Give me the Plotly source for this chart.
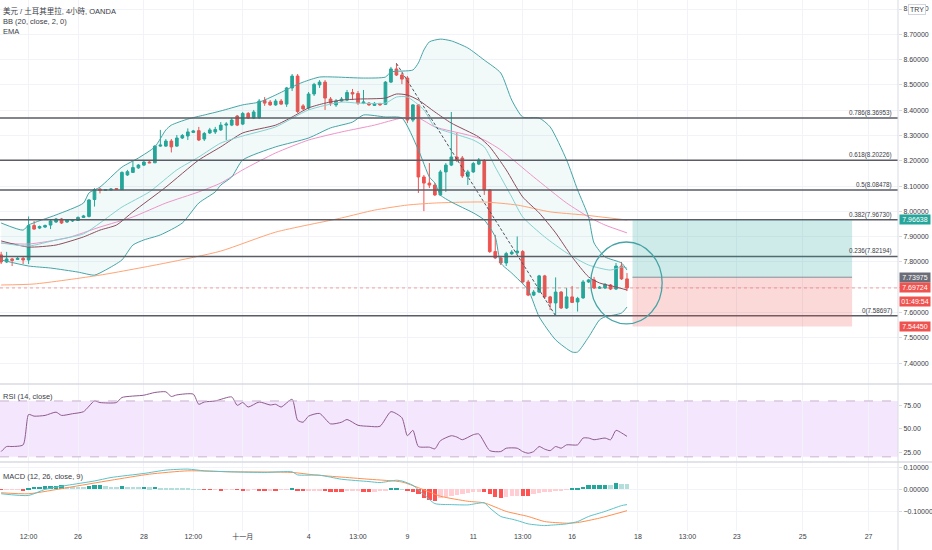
import plotly.graph_objects as go
from plotly.subplots import make_subplots

# USD/TRY 4h candles, bar index 0 = "26"
bars = list(range(-14, 101))

open_ = [7.828, 7.800, 7.812, 7.810, 7.814, 7.808, 7.944, 7.934, 7.938, 7.946,
         7.958, 7.970, 7.958, 7.962, 7.964, 7.976, 7.980, 8.047, 8.088, 8.083,
         8.085, 8.090, 8.086, 8.144, 8.154, 8.172, 8.183, 8.195, 8.192, 8.258,
         8.258, 8.278, 8.258, 8.290, 8.298, 8.312, 8.319, 8.286, 8.310, 8.314,
         8.322, 8.341, 8.341, 8.377, 8.345, 8.387, 8.369, 8.371, 8.438, 8.432,
         8.421, 8.436, 8.424, 8.488, 8.535, 8.417, 8.409, 8.464, 8.500, 8.511,
         8.444, 8.421, 8.436, 8.440, 8.470, 8.466, 8.428, 8.428, 8.419, 8.427,
         8.423, 8.511, 8.563, 8.539, 8.527, 8.361, 8.421, 8.136, 8.112, 8.104,
         8.065, 8.156, 8.183, 8.215, 8.211, 8.138, 8.156, 8.187, 8.199, 8.085,
         7.841, 7.816, 7.796, 7.832, 7.836, 7.841, 7.721, 7.669, 7.681, 7.745,
         7.662, 7.638, 7.681, 7.618, 7.662, 7.642, 7.658, 7.721, 7.729, 7.696,
         7.697, 7.709, 7.693, 7.784, 7.733]
high = [7.840, 7.840, 7.816, 7.820, 7.822, 7.980, 7.962, 7.944, 7.948, 7.966,
        7.974, 7.974, 7.970, 7.970, 7.980, 7.986, 8.049, 8.092, 8.092, 8.088,
        8.092, 8.092, 8.158, 8.164, 8.201, 8.187, 8.201, 8.199, 8.262, 8.322,
        8.286, 8.286, 8.302, 8.306, 8.328, 8.322, 8.334, 8.314, 8.330, 8.334,
        8.353, 8.353, 8.369, 8.381, 8.393, 8.393, 8.401, 8.444, 8.452, 8.440,
        8.444, 8.444, 8.492, 8.543, 8.543, 8.424, 8.472, 8.508, 8.519, 8.519,
        8.452, 8.444, 8.452, 8.480, 8.484, 8.476, 8.480, 8.432, 8.432, 8.428,
        8.515, 8.571, 8.585, 8.547, 8.535, 8.424, 8.424, 8.144, 8.191, 8.112,
        8.164, 8.191, 8.393, 8.310, 8.219, 8.164, 8.195, 8.211, 8.207, 8.088,
        7.907, 7.824, 7.840, 7.847, 7.901, 7.847, 7.729, 7.689, 7.749, 7.749,
        7.666, 7.739, 7.685, 7.697, 7.705, 7.662, 7.729, 7.733, 7.741, 7.705,
        7.717, 7.713, 7.796, 7.800, 7.756]
low = [7.792, 7.796, 7.784, 7.808, 7.792, 7.792, 7.928, 7.930, 7.934, 7.930,
       7.954, 7.950, 7.954, 7.958, 7.962, 7.974, 7.976, 8.019, 8.071, 8.081,
       8.083, 8.086, 8.085, 8.140, 8.152, 8.168, 8.179, 8.191, 8.191, 8.255,
       8.255, 8.233, 8.255, 8.286, 8.282, 8.310, 8.278, 8.278, 8.306, 8.306,
       8.318, 8.282, 8.337, 8.337, 8.341, 8.365, 8.365, 8.365, 8.417, 8.417,
       8.417, 8.421, 8.413, 8.476, 8.389, 8.401, 8.401, 8.456, 8.488, 8.401,
       8.417, 8.413, 8.432, 8.436, 8.440, 8.421, 8.424, 8.417, 8.417, 8.417,
       8.421, 8.507, 8.535, 8.503, 8.349, 8.353, 8.073, 8.001, 8.092, 8.061,
       8.061, 8.077, 8.179, 8.195, 8.132, 8.104, 8.152, 8.183, 8.065, 7.836,
       7.812, 7.788, 7.784, 7.828, 7.831, 7.713, 7.665, 7.665, 7.677, 7.654,
       7.610, 7.587, 7.614, 7.614, 7.638, 7.604, 7.654, 7.717, 7.693, 7.693,
       7.693, 7.689, 7.689, 7.729, 7.685]
close = [7.800, 7.812, 7.806, 7.814, 7.808, 7.944, 7.930, 7.940, 7.944, 7.962,
         7.970, 7.954, 7.966, 7.966, 7.976, 7.982, 8.045, 8.086, 8.083, 8.086,
         8.088, 8.088, 8.154, 8.157, 8.173, 8.183, 8.195, 8.192, 8.258, 8.262,
         8.278, 8.255, 8.290, 8.300, 8.314, 8.318, 8.282, 8.308, 8.322, 8.324,
         8.341, 8.345, 8.361, 8.341, 8.387, 8.369, 8.393, 8.436, 8.428, 8.421,
         8.436, 8.424, 8.488, 8.535, 8.395, 8.405, 8.464, 8.502, 8.511, 8.448,
         8.428, 8.436, 8.444, 8.470, 8.464, 8.428, 8.432, 8.421, 8.427, 8.421,
         8.511, 8.563, 8.539, 8.523, 8.361, 8.421, 8.136, 8.112, 8.104, 8.065,
         8.156, 8.183, 8.215, 8.203, 8.140, 8.156, 8.189, 8.203, 8.085, 7.841,
         7.816, 7.796, 7.833, 7.839, 7.843, 7.721, 7.669, 7.681, 7.745, 7.662,
         7.638, 7.681, 7.618, 7.662, 7.640, 7.656, 7.721, 7.729, 7.697, 7.700,
         7.711, 7.693, 7.784, 7.733, 7.697]

# Bollinger bands
bb_up_x = [-14, -10, -9, -4, 1, 2, 4, 8, 11, 14, 16, 17, 20, 23, 26, 30, 33, 36, 39,
           41, 44, 47, 52, 56, 57, 61, 62, 63, 64, 66, 68, 71, 74, 77, 79, 81, 84,
           86, 89, 91, 93, 94, 96, 99, 100]
bb_up_y = [7.954, 7.926, 7.946, 7.986, 8.033, 8.073, 8.096, 8.175, 8.211, 8.255,
           8.322, 8.341, 8.365, 8.381, 8.397, 8.421, 8.432, 8.460, 8.492, 8.511,
           8.531, 8.531, 8.527, 8.531, 8.551, 8.559, 8.587, 8.638, 8.670, 8.681,
           8.674, 8.646, 8.598, 8.547, 8.440, 8.373, 8.369, 8.334, 8.203, 8.085,
           7.978, 7.875, 7.820, 7.796, 7.768]
bb_lo_x = [-14, -9, -5, 0, 3, 5, 8, 10, 12, 15, 19, 22, 25, 26, 28, 30, 36, 42, 46,
           50, 52, 56, 59, 62, 64, 65, 66, 68, 72, 74, 76, 77, 79, 82, 84, 87, 90,
           91, 93, 95, 96, 99, 100]
bb_lo_y = [7.808, 7.784, 7.776, 7.760, 7.748, 7.768, 7.808, 7.867, 7.887, 7.907,
           7.954, 8.033, 8.077, 8.104, 8.136, 8.203, 8.255, 8.290, 8.330, 8.353,
           8.381, 8.373, 8.369, 8.243, 8.136, 8.112, 8.065, 8.037, 7.994, 7.966,
           7.899, 7.796, 7.756, 7.689, 7.583, 7.492, 7.444, 7.444, 7.503, 7.571,
           7.583, 7.598, 7.622]

# EMA lines
ema_fast_x = [-14, -9, -4, 1, 4, 8, 13, 18, 22, 26, 30, 36, 42, 48, 51, 56, 58, 60,
              63, 65, 68, 72, 74, 76, 79, 81, 85, 89, 93, 97, 99, 100]
ema_fast_y = [7.875, 7.863, 7.887, 7.911, 7.954, 8.017, 8.077, 8.164, 8.215, 8.270,
              8.298, 8.334, 8.401, 8.432, 8.428, 8.428, 8.452, 8.452, 8.401, 8.334,
              8.310, 8.282, 8.255, 8.175, 8.057, 7.978, 7.899, 7.836, 7.788, 7.768,
              7.780, 7.776]
basis_x = [-14, -9, -4, 1, 4, 7, 10, 16, 22, 26, 30, 36, 39, 42, 45, 48, 51, 56, 58,
           60, 62, 65, 68, 73, 75, 78, 81, 84, 87, 90, 93, 95, 98, 100]
basis_y = [7.883, 7.859, 7.867, 7.899, 7.926, 7.946, 7.998, 8.096, 8.203, 8.255,
           8.310, 8.341, 8.373, 8.409, 8.428, 8.440, 8.444, 8.448, 8.464, 8.460,
           8.440, 8.393, 8.349, 8.294, 8.255, 8.164, 8.057, 7.994, 7.915, 7.820,
           7.741, 7.717, 7.701, 7.689]
ema_mid_x = [-14, -9, -2, 4, 10, 16, 22, 26, 30, 36, 42, 48, 54, 59, 62, 65, 71, 74,
             77, 83, 89, 93, 96, 100]
ema_mid_y = [7.875, 7.871, 7.895, 7.938, 7.978, 8.033, 8.077, 8.112, 8.164, 8.231,
             8.282, 8.314, 8.341, 8.369, 8.369, 8.334, 8.302, 8.282, 8.243, 8.136,
             8.033, 7.978, 7.946, 7.915]
ema_slow_x = [-14, -8, 4, 16, 26, 36, 48, 54, 60, 65, 74, 80, 86, 92, 100]
ema_slow_y = [7.709, 7.713, 7.748, 7.796, 7.843, 7.918, 7.974, 8.005, 8.025, 8.033,
              8.037, 8.025, 7.998, 7.986, 7.966]

# Fibonacci retracement
fib_ratio = [0.786, 0.618, 0.5, 0.382, 0.236, 0]
fib_price = [8.36953, 8.20226, 8.08478, 7.96730, 7.82194, 7.58697]

# Long position tool
pos_bars = [101, 141]
pos_entry = 7.73975
pos_target = 7.96638
pos_stop = 7.54450
last_price = 7.69724
countdown = "01:49:54"

# drawings
trend_x = [58, 87]
trend_y = [8.585, 7.587]
ellipse_x = [93.4, 106.4]
ellipse_y = [7.555, 7.879]

# RSI (14)
rsi_x = [-14, -13, -12, -10, -9, -8, -6, -4, -3, -1, 1, 3, 4, 7, 8, 12, 14, 16, 17,
         18, 21, 22, 23, 25, 28, 29, 30, 31, 33, 35, 36, 37, 39, 40, 41, 42, 44, 46,
         48, 49, 51, 53, 55, 57, 59, 60, 61, 62, 64, 65, 66, 68, 69, 70, 72, 73, 75,
         77, 78, 80, 81, 82, 83, 84, 85, 86, 87, 88, 89, 91, 92, 93, 94, 96, 97, 98,
         99, 100]
rsi_y = [25.7, 31.1, 31.1, 32.9, 65.5, 63.7, 64.5, 68.0, 64.5, 66.3, 68.5, 80.0, 78.3,
         78.3, 83.7, 86.2, 89.1, 89.8, 84.8, 86.5, 87.3, 76.4, 78.9, 80.0, 84.3, 75.3,
         78.3, 73.5, 78.9, 75.7, 76.4, 73.5, 81.8, 59.3, 57.2, 63.7, 66.6, 55.4, 57.2,
         60.1, 53.9, 52.8, 52.8, 68.5, 62.0, 42.7, 48.5, 31.1, 30.4, 28.6, 37.3, 42.7,
         41.3, 38.4, 43.8, 44.6, 26.7, 25.7, 29.3, 29.3, 25.7, 23.9, 25.7, 31.1, 28.3,
         26.7, 31.1, 29.3, 32.9, 32.9, 40.2, 40.2, 38.4, 40.2, 38.4, 48.5, 45.7, 42.0]
rsi_levels = [80, 20]

# MACD (12, 26, 9)
macd_x = [-14, -9, -6, -2, 3, 6, 12, 16, 20, 23, 28, 34, 39, 40, 44, 48, 53, 55, 58,
          59, 61, 63, 65, 68, 71, 74, 75, 77, 79, 80, 82, 85, 86, 89, 91, 93, 96, 99,
          100]
macd_y = [-0.0198, -0.0276, 0.0, 0.0184, 0.0382, 0.0539, 0.0724, 0.0876, 0.0922,
          0.0843, 0.0797, 0.0770, 0.0797, 0.0659, 0.0645, 0.0461, 0.0355, 0.0309,
          0.0415, 0.0382, 0.0184, -0.0230, -0.0645, -0.0691, -0.0705, -0.0613,
          -0.0843, -0.1230, -0.1350, -0.1415, -0.1567, -0.1645, -0.1627, -0.1567,
          -0.1461, -0.1230, -0.1000, -0.0737, -0.0691]
signal_x = [-14, -9, -2, 6, 13, 20, 28, 39, 43, 53, 59, 62, 66, 71, 74, 78, 82, 85,
            89, 91, 95, 100]
signal_y = [-0.0152, -0.0198, 0.0078, 0.0415, 0.0691, 0.0843, 0.0797, 0.0770, 0.0659,
            0.0461, 0.0336, 0.0078, -0.0309, -0.0539, -0.0613, -0.1000, -0.1230,
            -0.1461, -0.1535, -0.1507, -0.1304, -0.0968]
macd_hist = [-0.002, -0.002, -0.002, -0.002, -0.003, 0.008, 0.010, 0.013, 0.015, 0.016,
             0.017, 0.018, 0.013, 0.012, 0.011, 0.010, 0.016, 0.018, 0.018, 0.015,
             0.013, 0.012, 0.014, 0.012, 0.011, 0.010, 0.010, 0.009, 0.010, 0.008,
             0.006, 0.005, 0.004, 0.003, 0.002, 0.001, 0.0005, -0.001, -0.002, -0.002,
             -0.003, -0.002, -0.001, -0.002, -0.004, -0.003, -0.002, -0.003, -0.004, -0.003,
             -0.004, -0.002, -0.001, 0.002, -0.003, -0.005, -0.004, -0.003, -0.003, -0.006,
             -0.010, -0.012, -0.014, -0.008, -0.006, -0.005, -0.010, -0.012, -0.011, -0.008,
             -0.006, 0.002, 0.003, 0.001, -0.008, -0.012, -0.020, -0.038, -0.046, -0.054,
             -0.040, -0.035, -0.030, -0.025, -0.020, -0.015, -0.012, -0.010, -0.012, -0.022,
             -0.034, -0.040, -0.034, -0.030, -0.028, -0.030, -0.032, -0.022, -0.018, -0.014,
             -0.010, -0.007, -0.005, -0.002, 0.002, 0.005, 0.012, 0.018, 0.020, 0.021,
             0.022, 0.020, 0.028, 0.025, 0.024]

tick_pos = [-9, 0, 12, 21, 30, 42, 51, 60, 72, 81, 90, 102, 111, 120, 132, 144]
tick_text = ["12:00", "26", "28", "12:00", "十一月", "4", "13:00", "9", "11", "13:00",
             "16", "18", "13:00", "23", "25", "27"]
price_ticks = [7.4, 7.5, 7.6, 7.7, 7.8, 7.9, 8.0, 8.1, 8.2, 8.3, 8.4, 8.5, 8.6, 8.7, 8.8]

UP = "#26a69a"
DOWN = "#ef5350"
TEAL = "#45a4a6"
GRID = "#f1f3f8"
TXT = "#3a3d45"
FONT = "Liberation Sans, Noto Sans CJK TC"

fig = make_subplots(rows=3, cols=1, shared_xaxes=True, vertical_spacing=0,
                    row_heights=[384, 78, 69])

# BB fill
fig.add_trace(go.Scatter(x=bb_up_x + bb_lo_x[::-1], y=bb_up_y + bb_lo_y[::-1],
                         fill="toself", fillcolor="rgba(38,166,154,0.06)",
                         line=dict(width=0), hoverinfo="skip", showlegend=False),
              row=1, col=1)

def line(x, y, color, row=1, width=1, dash=None):
    fig.add_trace(go.Scatter(x=x, y=y, mode="lines",
                             line=dict(color=color, width=width, shape="spline",
                                       smoothing=0.6, dash=dash),
                             hoverinfo="skip", showlegend=False), row=row, col=1)

line(ema_slow_x, ema_slow_y, "#ffa475")
line(ema_mid_x, ema_mid_y, "#ee93c9")
line(basis_x, basis_y, "#8c4d5e")
line(ema_fast_x, ema_fast_y, "#86d0d0")
line(bb_up_x, bb_up_y, TEAL)
line(bb_lo_x, bb_lo_y, TEAL)

fig.add_trace(go.Candlestick(
    x=bars, open=open_, high=high, low=low, close=close,
    increasing=dict(line=dict(color=UP, width=1), fillcolor=UP),
    decreasing=dict(line=dict(color=DOWN, width=1), fillcolor=DOWN),
    whiskerwidth=0, showlegend=False, hoverinfo="skip"), row=1, col=1)

# dashed trend line
fig.add_trace(go.Scatter(x=trend_x, y=trend_y, mode="lines",
                         line=dict(color="#50535e", width=1, dash="3px,2px"),
                         hoverinfo="skip", showlegend=False), row=1, col=1)

# RSI
fig.add_shape(type="rect", xref="x2 domain", yref="y2", x0=0, x1=1,
              y0=rsi_levels[1], y1=rsi_levels[0], fillcolor="#f4e6fc",
              line=dict(width=0), layer="below")
for lv in rsi_levels:
    fig.add_shape(type="line", xref="x2 domain", yref="y2", x0=0, x1=1, y0=lv, y1=lv,
                  line=dict(color="#c9b3cf", width=1, dash="dash"))
line(rsi_x, rsi_y, "#8f5a8f", row=2)

# MACD
hist_colors = []
prev = None
for v in macd_hist:
    if v >= 0:
        hist_colors.append(UP if prev is None or v >= prev else "#b2dfdb")
    else:
        hist_colors.append("#ff5252" if prev is None or v < prev else "#ffcdd2")
    prev = v
fig.add_trace(go.Bar(x=bars, y=macd_hist, marker=dict(color=hist_colors, line=dict(width=0)),
                     width=0.8, hoverinfo="skip", showlegend=False), row=3, col=1)
line(signal_x, signal_y, "#ff8f4f", row=3)
line(macd_x, macd_y, "#5bc2c9", row=3)

# fib levels
for r, p in zip(fib_ratio, fib_price):
    fig.add_shape(type="line", xref="x domain", yref="y", x0=0, x1=1, y0=p, y1=p,
                  line=dict(color="#5a5d66", width=1.5))
    fig.add_annotation(x=1, y=p, xref="paper", yref="y", xanchor="right",
                       yanchor="bottom", showarrow=False, text=f"{r:g}({p:.5f})",
                       font=dict(size=6.3, color=TXT, family=FONT), yshift=-1, xshift=-4)

# long position
fig.add_shape(type="rect", xref="x", yref="y", x0=pos_bars[0], x1=pos_bars[1],
              y0=pos_entry, y1=pos_target, fillcolor="rgba(38,166,154,0.22)",
              line=dict(width=0))
fig.add_shape(type="rect", xref="x", yref="y", x0=pos_bars[0], x1=pos_bars[1],
              y0=pos_stop, y1=pos_entry, fillcolor="rgba(239,83,80,0.22)",
              line=dict(width=0))
fig.add_shape(type="line", xref="x", yref="y", x0=pos_bars[0], x1=pos_bars[1],
              y0=pos_entry, y1=pos_entry, line=dict(color="#8a8d96", width=1))
fig.add_shape(type="line", xref="x domain", yref="y", x0=0, x1=1,
              y0=last_price, y1=last_price,
              line=dict(color="rgba(239,83,80,0.55)", width=1, dash="dot"))

fig.add_shape(type="circle", xref="x", yref="y", x0=ellipse_x[0], x1=ellipse_x[1],
              y0=ellipse_y[0], y1=ellipse_y[1], line=dict(color=TEAL, width=1.3))

# pane separators and right axis border
for yp in [69 / 531, 147 / 531]:
    fig.add_shape(type="line", xref="paper", yref="paper", x0=0, x1=932 / 898,
                  y0=yp, y1=yp, line=dict(color="#d8dbe3", width=1.5))
fig.add_shape(type="line", xref="paper", yref="paper", x0=1, x1=1, y0=-19 / 531, y1=1,
              line=dict(color="#d8dbe3", width=1))

# axis price tags
for val, bg in [(pos_target, UP), (pos_entry, "#6b6e78"), (last_price, DOWN), (pos_stop, DOWN)]:
    fig.add_annotation(x=1, y=val, xref="paper", yref="y", xanchor="left", yanchor="middle",
                       showarrow=False, text=f"{val:.5f}", bgcolor=bg, width=28,
                       font=dict(size=7, color="white", family=FONT), borderpad=1,
                       xshift=1)
fig.add_annotation(x=1, y=last_price, xref="paper", yref="y", xanchor="left",
                   yanchor="middle", showarrow=False, text=countdown, bgcolor=DOWN,
                   width=28, font=dict(size=7, color="white", family=FONT), borderpad=1,
                   xshift=1, yshift=-14)
fig.add_annotation(x=1, y=8.8, xref="paper", yref="y", xanchor="left", yanchor="middle",
                   showarrow=False, text="TRY", bgcolor="white", bordercolor="#d1d4dc",
                   borderwidth=1, borderpad=1, xshift=10,
                   font=dict(size=7, color=TXT, family=FONT))

# legends / titles
for txt, ypx in [("美元 / 土耳其里拉, 4小時, OANDA", 11), ("BB (20, close, 2, 0)", 22),
                 ("EMA", 32), ("RSI (14, close)", 396), ("MACD (12, 26, close, 9)", 476)]:
    fig.add_annotation(x=0, y=1 - ypx / 531, xref="paper", yref="paper", xanchor="left",
                       yanchor="middle", showarrow=False, text=txt, xshift=1,
                       font=dict(size=7.5, color=TXT, family=FONT))

axis_font = dict(size=7, color=TXT, family="Liberation Sans, Noto Sans CJK SC")
for r in (1, 2, 3):
    fig.update_xaxes(range=[-14.21, 149.36], tickvals=tick_pos, ticktext=tick_text,
                     showgrid=True, gridcolor=GRID, gridwidth=1, zeroline=False,
                     showticklabels=(r == 3), tickfont=axis_font, ticks="",
                     rangeslider_visible=False, row=r, col=1)

fig.update_yaxes(side="right", range=[7.3176, 8.8356], tickvals=price_ticks,
                 tickformat=".5f", showgrid=True, gridcolor=GRID, zeroline=False,
                 tickfont=axis_font, ticks="outside", ticklen=3, tickcolor="#d8dbe3",
                 row=1, col=1)
fig.update_yaxes(side="right", range=[14.5, 98.2], tickvals=[25, 50, 75],
                 tickformat=".2f", showgrid=False, zeroline=False, tickfont=axis_font,
                 ticks="outside", ticklen=3, tickcolor="#d8dbe3", row=2, col=1)
fig.update_yaxes(side="right", range=[-0.189, 0.1244], tickvals=[-0.1, 0, 0.1],
                 tickformat=".5f", showgrid=True, gridcolor=GRID, zeroline=False,
                 tickfont=axis_font, ticks="outside", ticklen=3, tickcolor="#d8dbe3",
                 row=3, col=1)

fig.update_layout(width=932, height=550, margin=dict(l=0, r=34, t=0, b=19),
                  plot_bgcolor="white", paper_bgcolor="white", bargap=0,
                  showlegend=False, hovermode=False,
                  font=dict(family=FONT, size=7, color=TXT))

fig.write_html("out.html", config={"displayModeBar": False},
               post_script="document.body.style.margin='0';")
